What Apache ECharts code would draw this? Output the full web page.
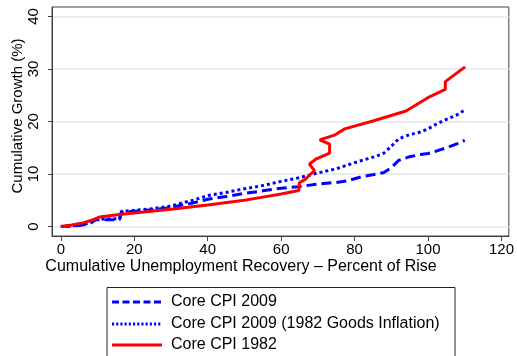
<!DOCTYPE html>
<html>
<head>
<meta charset="utf-8">
<script src="https://cdn.jsdelivr.net/npm/echarts@6/dist/echarts.min.js"></script>
<style>
  html, body { margin: 0; padding: 0; background: #fff; }
  #chart { width: 517px; height: 356px; }
</style>
</head>
<body>
<div id="chart"></div>
<script>
// Cumulative unemployment recovery (percent of rise) on x, cumulative growth (%) on y
const cpi2009X = [0, 3, 6, 8, 9.5, 16, 16.5, 20, 25, 30, 33, 36, 40, 45, 50, 55, 60, 65, 70, 75, 78, 82, 86, 88, 90, 92, 95, 98, 100, 102, 105, 108, 110];
const cpi2009Y = [0, 0.1, 0.3, 0.6, 1.3, 1.3, 2.7, 2.9, 3.2, 3.6, 4.1, 4.5, 5.2, 5.7, 6.3, 6.8, 7.3, 7.6, 8.1, 8.4, 8.7, 9.5, 10.0, 10.3, 11.2, 12.6, 13.3, 13.7, 13.9, 14.3, 15.0, 15.8, 16.4];

const cpi2009GoodsX = [0, 3, 6, 8, 9.5, 16, 16.5, 20, 25, 30, 33, 36, 40, 45, 50, 55, 60, 65, 70, 75, 78, 82, 86, 88, 90, 92, 95, 98, 100, 102, 105, 108, 110];
const cpi2009GoodsY = [0, 0.1, 0.4, 0.7, 1.4, 1.5, 2.9, 3.1, 3.4, 3.9, 4.5, 5.0, 5.9, 6.5, 7.2, 7.8, 8.6, 9.3, 10.2, 11.0, 11.7, 12.6, 13.4, 14.0, 15.3, 16.7, 17.5, 18.0, 18.6, 19.4, 20.4, 21.3, 22.2];

const cpi1982X = [0, 3, 6, 8, 10.5, 16, 20, 30, 40, 50, 55, 60, 64.8, 65, 66.4, 68.2, 69.1, 67.7, 69.6, 73.2, 73.2, 70.5, 74.5, 77.3, 85, 94, 100.4, 104.7, 104.7, 110.1];
const cpi1982Y = [0, 0.3, 0.7, 1.1, 1.8, 2.3, 2.6, 3.3, 4.1, 5.0, 5.6, 6.2, 6.85, 8.4, 8.9, 10.1, 10.6, 11.9, 12.9, 14.0, 15.7, 16.5, 17.4, 18.6, 20.1, 22.0, 24.7, 26.1, 27.6, 30.4];

const xTicks = [0, 20, 40, 60, 80, 100, 120];
const yTicks = [0, 10, 20, 30, 40];

const seriesNames = ['Core CPI 2009', 'Core CPI 2009 (1982 Goods Inflation)', 'Core CPI 1982'];

const FONT = '"Liberation Sans", Arial, Helvetica, sans-serif';

// Line looks shared by the plotted series and the legend keys
const lineLooks = [
  { color: '#0000ff', width: 3, dash: [10, 5] },
  { color: '#0000ff', width: 3, dash: [3, 3] },
  { color: '#ff0000', width: 3, dash: null }
];

function pairs(xs, ys) {
  return xs.map((x, i) => [x, ys[i]]);
}

function lineStyleOf(look) {
  return { color: look.color, width: look.width, type: look.dash || 'solid', cap: 'butt' };
}

// Legend: a framed box with a short line sample and a label per series
const legendBox = { x: 107, y: 287.5, w: 348, h: 80 };
const legendRows = [302, 324, 345];
const legendGraphics = [
  {
    type: 'rect', z: 10,
    shape: { x: legendBox.x, y: legendBox.y, width: legendBox.w, height: legendBox.h },
    style: { fill: '#fff', stroke: '#222', lineWidth: 1 }
  }
];
seriesNames.forEach((name, i) => {
  const look = lineLooks[i];
  legendGraphics.push({
    type: 'line', z: 11,
    shape: { x1: 112, y1: legendRows[i], x2: 162, y2: legendRows[i] },
    style: {
      stroke: look.color, lineWidth: look.width,
      lineDash: look.dash ? [look.dash[0] * 0.7, look.dash[1] * 0.7] : null
    }
  });
  legendGraphics.push({
    type: 'text', z: 11, x: 171, y: legendRows[i],
    style: { text: name, fill: '#000', font: '16px ' + FONT, align: 'left', verticalAlign: 'middle' }
  });
});

const chart = echarts.init(document.getElementById('chart'), null, { renderer: 'canvas' });

chart.setOption({
  animation: false,
  backgroundColor: '#ffffff',
  grid: {
    left: 52, top: 7, right: 7, bottom: 120,
    show: true, borderColor: '#404040', borderWidth: 1, backgroundColor: '#ffffff'
  },
  xAxis: {
    type: 'value',
    min: -2.4, max: 122,
    axisLine: { show: true, onZero: false, lineStyle: { color: '#404040', width: 1 } },
    axisTick: { show: true, length: 5, customValues: xTicks, lineStyle: { color: '#404040' } },
    axisLabel: { customValues: xTicks, margin: 6, color: '#000', fontSize: 15, fontFamily: FONT },
    splitLine: { show: false }
  },
  yAxis: {
    type: 'value',
    min: -1.8, max: 41.8,
    axisLine: { show: true, onZero: false, lineStyle: { color: '#404040', width: 1 } },
    axisTick: { show: true, length: 4, customValues: yTicks, lineStyle: { color: '#404040' } },
    axisLabel: { customValues: yTicks, rotate: 90, margin: 11, color: '#000', fontSize: 15, fontFamily: FONT },
    splitLine: { show: true, lineStyle: { color: '#e6e6e6', width: 1.5 } }
  },
  graphic: legendGraphics.concat([
    {
      type: 'text', x: 241, y: 267,
      style: {
        text: 'Cumulative Unemployment Recovery \u2013 Percent of Rise',
        fill: '#000', font: '16px ' + FONT, align: 'center', verticalAlign: 'middle'
      }
    },
    {
      type: 'text', x: 18, y: 116, rotation: Math.PI / 2,
      style: {
        text: 'Cumulative Growth (%)',
        fill: '#000', font: '15px ' + FONT, align: 'center', verticalAlign: 'middle'
      }
    }
  ]),
  series: seriesNames.map((name, i) => ({
    name: name,
    type: 'line',
    symbol: 'none',
    data: [pairs(cpi2009X, cpi2009Y), pairs(cpi2009GoodsX, cpi2009GoodsY), pairs(cpi1982X, cpi1982Y)][i],
    lineStyle: lineStyleOf(lineLooks[i]),
    itemStyle: { color: lineLooks[i].color },
    z: i === 2 ? 4 : 3
  }))
});
</script>
</body>
</html>
